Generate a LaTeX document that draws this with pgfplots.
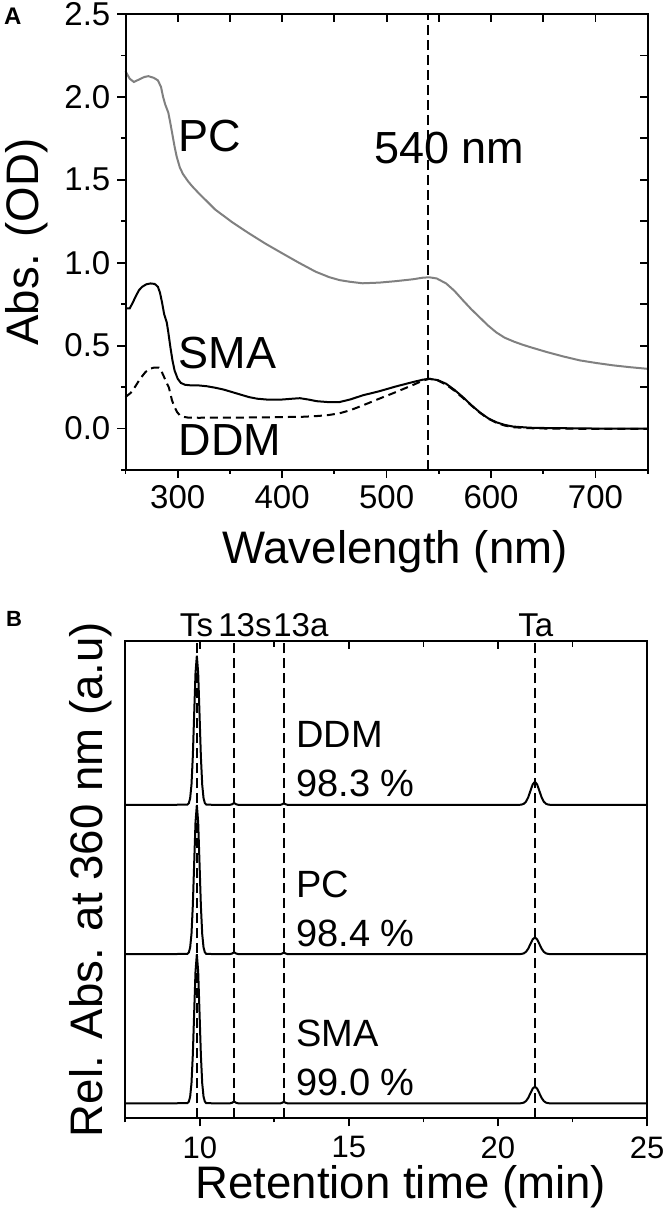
\documentclass[border=0pt]{standalone}
\usepackage{fontspec}
\setmainfont{Liberation Sans}
\usepackage{pgfplots}
\usepackage{pgfplotstable}
\pgfplotsset{compat=1.18}

\pgfplotstableread{
x y
250 2.155
254 2.11
258 2.09
263 2.105
268 2.12
272 2.125
277 2.115
281 2.1
284 2.06
286 2.0
288 1.955
291 1.905
293 1.84
295 1.77
297 1.70
299 1.64
302 1.575
305 1.535
310 1.49
314 1.46
320 1.42
336 1.32
352 1.245
368 1.178
384 1.115
400 1.057
416 1.0
432 0.946
445 0.913
455 0.895
465 0.885
477 0.876
493 0.88
509 0.889
525 0.9
535 0.91
541 0.912
548 0.905
557 0.875
565 0.83
573 0.774
581 0.72
590 0.665
597 0.622
605 0.58
613 0.548
622 0.524
630 0.506
637 0.492
653 0.462
669 0.435
685 0.411
701 0.395
717 0.381
733 0.37
750 0.36
}\pcdata

\pgfplotstableread{
x y
250 0.724
254 0.724
257 0.76
260 0.80
263 0.835
266 0.855
270 0.87
274 0.875
278 0.872
281 0.855
283 0.82
285 0.76
287 0.69
289.5 0.64
291 0.58
293 0.49
295 0.41
297 0.35
300 0.30
303 0.275
307 0.264
313 0.26
320 0.26
328 0.255
336 0.246
344 0.235
352 0.22
360 0.205
368 0.19
376 0.18
385 0.175
400 0.175
410 0.18
417 0.183
425 0.175
433 0.165
445 0.159
455 0.16
465 0.175
477 0.20
493 0.225
509 0.254
525 0.28
535 0.295
541 0.30
549 0.292
557 0.27
565 0.233
573 0.19
581 0.142
589 0.099
597 0.063
605 0.038
613 0.022
621 0.012
637 0.005
653 0.003
700 0.0
750 0.0
}\smadata

\pgfplotstableread{
x y
250 0.19
255 0.215
259 0.25
264 0.30
269 0.34
273 0.36
277 0.367
282 0.367
284.5 0.345
287 0.31
289 0.28
291.4 0.25
293 0.21
294.5 0.17
297 0.13
299.3 0.10
302 0.08
305 0.071
310 0.066
320 0.065
350 0.066
380 0.067
400 0.069
420 0.071
435 0.076
445 0.082
455 0.092
465 0.11
477 0.139
493 0.18
509 0.22
525 0.262
535 0.29
541 0.30
549 0.29
557 0.265
565 0.228
573 0.185
581 0.14
589 0.097
597 0.06
605 0.035
613 0.018
621 0.008
637 0.002
653 0.0
700 -0.002
750 -0.002
}\ddmdata

\pgfplotstableread{
x sma pc ddm
7.5 0 1 2
9.0 0 1 2
9.585 0.002 1.002 2.002
9.63 0.011 1.011 2.011
9.675 0.044 1.044 2.044
9.72 0.135 1.135 2.135
9.765 0.325 1.325 2.325
9.81 0.607 1.607 2.607
9.855 0.883 1.883 2.883
9.90 1.0 2.0 3.0
9.945 0.883 1.883 2.883
9.99 0.607 1.607 2.607
10.035 0.325 1.325 2.325
10.08 0.135 1.135 2.135
10.125 0.044 1.044 2.044
10.17 0.011 1.011 2.011
10.215 0.002 1.002 2.002
10.5 0 1 2
11.0 0 1 2
11.08 0.004 1.004 2.004
11.15 0.012 1.012 2.012
11.22 0.004 1.004 2.004
11.3 0 1 2
12.7 0 1 2
12.76 0.004 1.004 2.004
12.82 0.010 1.010 2.010
12.88 0.004 1.004 2.004
12.95 0 1 2
20.6 0 1 2
20.715 0.0002 1.0002 2.0003
20.79 0.0012 1.0012 2.0017
20.865 0.0049 1.0049 2.0068
20.94 0.0152 1.0152 2.021
21.015 0.0364 1.0364 2.0503
21.09 0.0679 1.0679 2.094
21.165 0.0988 1.0988 2.1368
21.24 0.112 1.112 2.155
21.315 0.0988 1.0988 2.1368
21.39 0.0679 1.0679 2.094
21.465 0.0364 1.0364 2.0503
21.54 0.0152 1.0152 2.021
21.615 0.0049 1.0049 2.0068
21.69 0.0012 1.0012 2.0017
21.765 0.0002 1.0002 2.0003
22.0 0 1 2
25.0 0 1 2
}\chrom

\definecolor{pcgray}{RGB}{128,128,128}

\pgfplotsset{
  base/.style={
    scale only axis, anchor=south west, clip=false,
    axis line style={line width=2pt, draw=black},
    major tick style={line width=1.8pt, draw=black},
    minor tick style={line width=1.8pt, draw=black},
    major tick length=8pt, minor tick length=4pt,
    /pgf/number format/assume math mode=true,
  },
}

\begin{document}
\begin{tikzpicture}
\path[use as bounding box] (0pt,0pt) rectangle (668pt,1211pt);

% ---------- Panel A ----------
\begin{axis}[base,
  at={(125.5pt,741pt)}, width=522.2pt, height=456pt,
  xmin=250, xmax=750, ymin=-0.25, ymax=2.5,
  xtick={300,400,500,600,700}, minor xtick={250,350,450,550,650,750},
  ytick={0,0.5,1,1.5,2,2.5}, minor ytick={-0.25,0.25,0.75,1.25,1.75,2.25},
  yticklabels={0.0,0.5,1.0,1.5,2.0,2.5},
  tick align=outside, xtick pos=bottom, ytick pos=left,
  tick label style={font=\fontsize{33}{36}\selectfont},
  xticklabel style={inner sep=0pt, yshift=-7pt, anchor=north},
  yticklabel style={inner sep=0pt, xshift=-7pt, anchor=east},
  xlabel={Wavelength (nm)}, ylabel={Abs. (OD)},
  label style={font=\fontsize{45.6}{50}\selectfont, inner sep=0pt},
  xlabel style={at={(axis description cs:0.516,-0.204)}, anchor=base},
  ylabel style={at={(axis description cs:-0.149,0.5)}, anchor=south},
]
\addplot[pcgray, line width=2pt] table[x=x,y=y] {\pcdata};
\addplot[black, line width=2pt] table[x=x,y=y] {\smadata};
\addplot[black, line width=2pt, dash pattern=on 8pt off 5pt] table[x=x,y=y] {\ddmdata};
\addplot[black, line width=1.8pt, dash pattern=on 10pt off 5pt] coordinates {(540,-0.25) (540,2.5)};
\node[anchor=base west, inner sep=0pt, font=\fontsize{45}{50}\selectfont] at (axis cs:301,1.671) {PC};
\node[anchor=base west, inner sep=0pt, font=\fontsize{45}{50}\selectfont] at (axis cs:301,0.361) {SMA};
\node[anchor=base west, inner sep=0pt, font=\fontsize{45}{50}\selectfont] at (axis cs:301,-0.163) {DDM};
\node[anchor=base west, inner sep=0pt, font=\fontsize{45}{50}\selectfont] at (axis cs:488,1.601) {540 nm};
\end{axis}
\begin{axis}[base,
  at={(125.5pt,741pt)}, width=522.2pt, height=456pt,
  xmin=250, xmax=750, ymin=-0.25, ymax=2.5,
  xtick={250,300,...,750}, ytick={-0.25,0,...,2.5},
  xticklabels={}, yticklabels={},
  tick align=inside, xtick pos=top, ytick pos=right,
]
\end{axis}

% ---------- Panel B ----------
\begin{axis}[base,
  at={(125.3pt,92.7pt)}, width=521.7pt, height=477.6pt,
  xmin=7.5, xmax=25, ymin=-0.1, ymax=3.1,
  xtick={10,15,20,25}, minor xtick={7.5,12.5,17.5,22.5},
  ytick=\empty,
  tick align=outside, xtick pos=bottom,
  tick label style={font=\fontsize{31}{34}\selectfont},
  xticklabel style={inner sep=0pt, yshift=-10pt, anchor=north},
  xlabel={Retention time (min)}, ylabel={Rel. Abs. at 360 nm (a.u)},
  label style={font=\fontsize{45.6}{50}\selectfont, inner sep=0pt},
  xlabel style={at={(axis description cs:0.528,-0.1675)}, anchor=base},
  ylabel style={at={(axis description cs:-0.0255,0.5)}, anchor=south},
]
\addplot[black, line width=1.8pt, dash pattern=on 10pt off 5pt] coordinates {(9.9,-0.1) (9.9,3.1)};
\addplot[black, line width=1.8pt, dash pattern=on 10pt off 5pt] coordinates {(11.15,-0.1) (11.15,3.1)};
\addplot[black, line width=1.8pt, dash pattern=on 10pt off 5pt] coordinates {(12.82,-0.1) (12.82,3.1)};
\addplot[black, line width=1.8pt, dash pattern=on 10pt off 5pt] coordinates {(21.24,-0.1) (21.24,3.1)};
\addplot[black, line width=2pt] table[x=x,y=sma] {\chrom};
\addplot[black, line width=2pt] table[x=x,y=pc] {\chrom};
\addplot[black, line width=2pt] table[x=x,y=ddm] {\chrom};
\node[anchor=base west, inner sep=0pt, font=\fontsize{38}{42}\selectfont] at (axis cs:13.226,2.382) {DDM};
\node[anchor=base west, inner sep=0pt, font=\fontsize{38}{42}\selectfont] at (axis cs:13.226,2.054) {98.3 \%};
\node[anchor=base west, inner sep=0pt, font=\fontsize{38}{42}\selectfont] at (axis cs:13.226,1.382) {PC};
\node[anchor=base west, inner sep=0pt, font=\fontsize{38}{42}\selectfont] at (axis cs:13.226,1.054) {98.4 \%};
\node[anchor=base west, inner sep=0pt, font=\fontsize{38}{42}\selectfont] at (axis cs:13.226,0.382) {SMA};
\node[anchor=base west, inner sep=0pt, font=\fontsize{38}{42}\selectfont] at (axis cs:13.226,0.054) {99.0 \%};
\node[anchor=base, inner sep=0pt, font=\fontsize{33}{36}\selectfont] at (axis cs:9.888,3.130) {Ts};
\node[anchor=base, inner sep=0pt, font=\fontsize{33}{36}\selectfont] at (axis cs:11.515,3.130) {13s};
\node[anchor=base, inner sep=0pt, font=\fontsize{33}{36}\selectfont] at (axis cs:13.39,3.130) {13a};
\node[anchor=base, inner sep=0pt, font=\fontsize{33}{36}\selectfont] at (axis cs:21.27,3.130) {Ta};
\end{axis}
\begin{axis}[base,
  at={(125.3pt,92.7pt)}, width=521.7pt, height=477.6pt,
  xmin=7.5, xmax=25, ymin=-0.1, ymax=3.1,
  xtick={10,15,20,25}, minor xtick={12.5,17.5,22.5},
  minor tick length=6pt,
  ytick=\empty, xticklabels={},
  tick align=inside, xtick pos=top,
]
\end{axis}

% panel letters
\node[anchor=base west, inner sep=0pt, font=\bfseries\fontsize{24}{26}\selectfont] at (4pt,1186pt) {A};
\node[anchor=base west, inner sep=0pt, font=\bfseries\fontsize{22}{24}\selectfont] at (6pt,584pt) {B};
\end{tikzpicture}
\end{document}
